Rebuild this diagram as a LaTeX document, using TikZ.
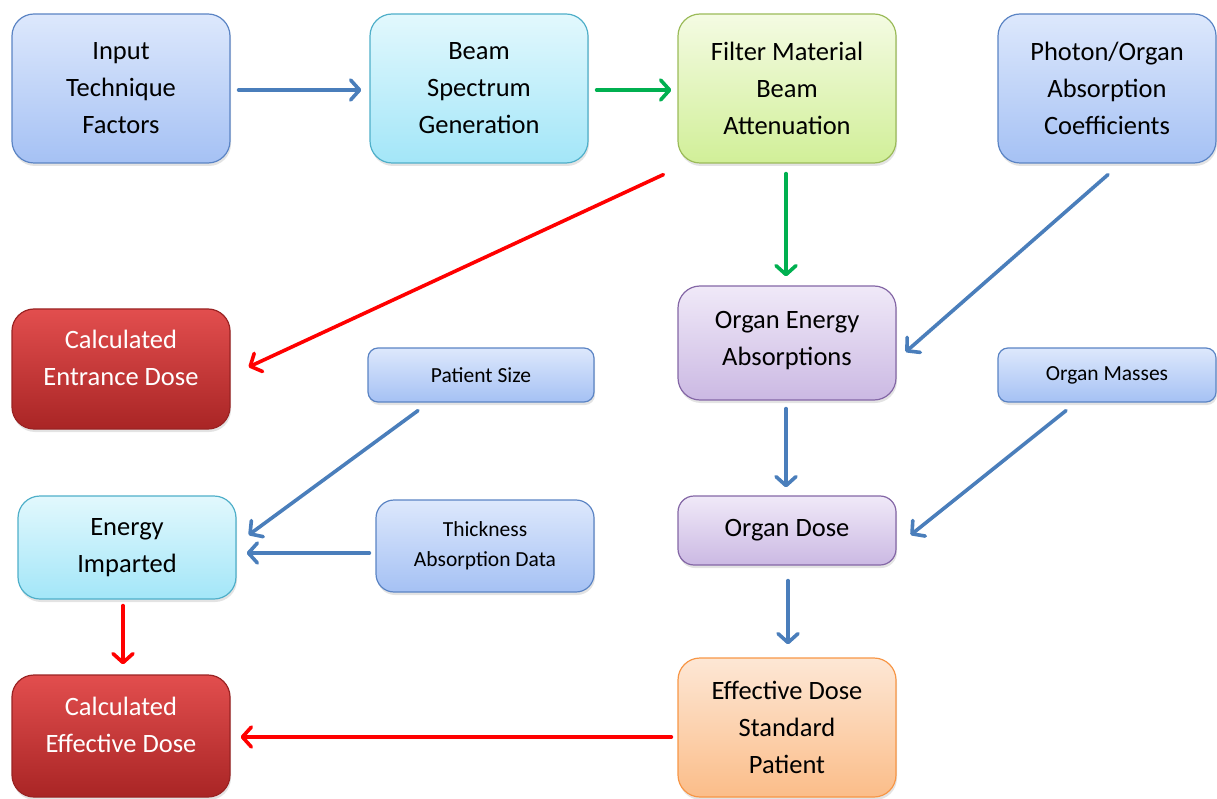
\documentclass[tikz,border=0pt]{standalone}
\usepackage{fontspec}
\setmainfont{Carlito}
\usetikzlibrary{arrows.meta,shadows,calc}
\definecolor{bluetop}{HTML}{DDE8FC}
\definecolor{bluebot}{HTML}{A5C1F4}
\definecolor{blueline}{HTML}{5B84C4}
\definecolor{cyantop}{HTML}{E2F8FD}
\definecolor{cyanbot}{HTML}{A3E6F8}
\definecolor{cyanline}{HTML}{4FAFC9}
\definecolor{greentop}{HTML}{F4FBE3}
\definecolor{greenbot}{HTML}{D1EF98}
\definecolor{greenline}{HTML}{9BBB59}
\definecolor{purptop}{HTML}{F0E9F8}
\definecolor{purpbot}{HTML}{CBB9E3}
\definecolor{purpline}{HTML}{8467A6}
\definecolor{orgtop}{HTML}{FDE7D5}
\definecolor{orgbot}{HTML}{FBBD89}
\definecolor{orgline}{HTML}{F79646}
\definecolor{redtop}{HTML}{E24E4E}
\definecolor{redbot}{HTML}{A92525}
\definecolor{redline}{HTML}{9A2323}
\definecolor{arblue}{HTML}{4A7EBB}
\definecolor{argreen}{HTML}{00B050}
\definecolor{arred}{HTML}{FF0000}
\newcommand{\liftxt}[2]{\raisebox{#1}[\height][\depth]{\begin{tabular}{@{}c@{}}#2\end{tabular}}}
\tikzset{
  box/.style={rectangle, rounded corners=22pt, line width=1.2pt, align=center,
    font=\fontsize{26.5}{37}\selectfont, text=black, inner sep=0pt,
    minimum width=218pt,
    drop shadow={opacity=0.22, shadow xshift=1pt, shadow yshift=-3pt}},
  sbox/.style={box, rounded corners=10pt, font=\fontsize{21.5}{30}\selectfont},
  bluebox/.style={draw=blueline, top color=bluetop, bottom color=bluebot},
  cyanbox/.style={draw=cyanline, top color=cyantop, bottom color=cyanbot},
  greenbox/.style={draw=greenline, top color=greentop, bottom color=greenbot},
  purpbox/.style={draw=purpline, top color=purptop, bottom color=purpbot},
  orgbox/.style={draw=orgline, top color=orgtop, bottom color=orgbot},
  redbox/.style={draw=redline, top color=redtop, bottom color=redbot, text=white},
  arr/.style={line width=3.6pt, line cap=round, line join=round,
    -{Straight Barb[length=9pt, width=20pt, line width=3.6pt, round]}},
  barr/.style={arr, arblue},
  garr/.style={arr, argreen},
  rarr/.style={arr, arred},
}
\begin{document}
\begin{tikzpicture}[x=1pt,y=-1pt]
\useasboundingbox (0,0) rectangle (1217,799);
\node[box,bluebox,minimum height=149pt] (in) at (121,88.5) {Input\\Technique\\Factors};
\node[box,cyanbox,minimum height=149pt] (beam) at (479,88.5) {Beam\\Spectrum\\Generation};
\node[box,greenbox,minimum height=149pt] (filter) at (787,88.5) {Filter Material\\Beam\\Attenuation};
\node[box,bluebox,minimum height=149pt] (photon) at (1107,88.5) {Photon/Organ\\Absorption\\Coefficients};
\node[box,redbox,minimum height=120pt] (entr) at (121,369) {\liftxt{9pt}{Calculated\\Entrance Dose}};
\node[box,purpbox,minimum height=114pt] (oea) at (787,343) {\liftxt{3pt}{Organ Energy\\Absorptions}};
\node[sbox,bluebox,minimum width=226pt,minimum height=54pt] (psize) at (481,375) {Patient Size};
\node[sbox,bluebox,minimum height=54pt] (masses) at (1107,375) {Organ Masses};
\node[box,cyanbox,minimum height=103pt] (eimp) at (127,547.5) {Energy\\Imparted};
\node[sbox,bluebox,rounded corners=18pt,minimum height=92pt] (thick) at (485,546) {Thickness\\Absorption Data};
\node[box,purpbox,rounded corners=16pt,minimum height=69pt] (odose) at (787,530.5) {Organ Dose};
\node[box,redbox,minimum height=122pt] (eff) at (121,736) {\liftxt{9pt}{Calculated\\Effective Dose}};
\node[box,orgbox,minimum height=139pt] (std) at (787,727.5) {Effective Dose\\Standard\\Patient};

\draw[barr] ($(in.east)+(8,1.5)$) -- ($(beam.west)+(-8,1.5)$);
\draw[garr] ($(beam.east)+(8,1.5)$) -- ($(filter.west)+(-6,1.5)$);
\draw[garr] ($(filter.south)+(-1,10)$) -- ($(oea.north)+(-1,-9)$);
\draw[rarr] ($(filter.south west)+(-14,11)$) -- ($(entr.east)+(18,-2)$);
\draw[barr] ($(photon.south)+(1,11)$) -- ($(oea.east)+(9,9)$);
\draw[barr] ($(oea.south)+(-1,8)$) -- ($(odose.north)+(-1,-8)$);
\draw[barr] ($(masses.south)+(-41,8)$) -- ($(odose.east)+(14,4.5)$);
\draw[barr] ($(psize.south)+(-63,8)$) -- ($(eimp.east)+(12,-12.5)$);
\draw[barr] ($(thick.west)+(-6,7)$) -- ($(eimp.east)+(10,5.5)$);
\draw[rarr] ($(eimp.south)+(-4,6)$) -- ($(eff.north)+(2,-10)$);
\draw[barr] ($(odose.south)+(1,15)$) -- ($(std.north)+(1,-13)$);
\draw[rarr] ($(std.west)+(-6,9.5)$) -- ($(eff.east)+(10,1)$);
\end{tikzpicture}
\end{document}
